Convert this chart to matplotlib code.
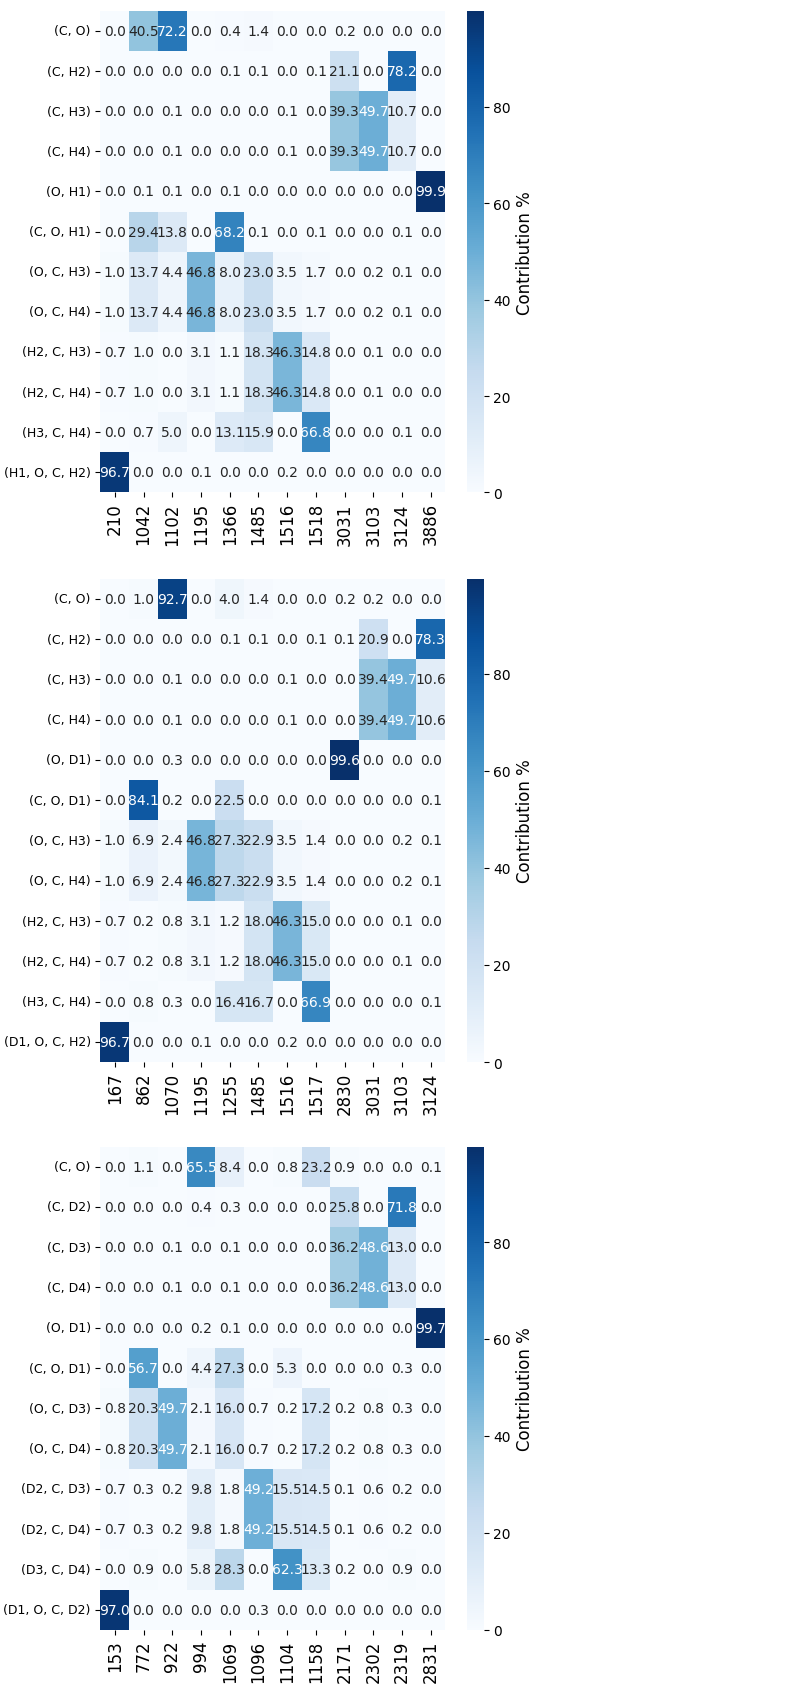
import numpy as np
import pandas as pd
import matplotlib
matplotlib.use('Agg')
import matplotlib.pyplot as plt
import seaborn as sns

# --- panel 1: CH3OH ---
freqs_h = ['210', '1042', '1102', '1195', '1366', '1485', '1516', '1518', '3031', '3103', '3124', '3886']
coords_h = ['(C, O)', '(C, H2)', '(C, H3)', '(C, H4)', '(O, H1)', '(C, O, H1)', '(O, C, H3)',
            '(O, C, H4)', '(H2, C, H3)', '(H2, C, H4)', '(H3, C, H4)', '(H1, O, C, H2)']
ped_h = [
    [0.0, 40.5, 72.2, 0.0, 0.4, 1.4, 0.0, 0.0, 0.2, 0.0, 0.0, 0.0],
    [0.0, 0.0, 0.0, 0.0, 0.1, 0.1, 0.0, 0.1, 21.1, 0.0, 78.2, 0.0],
    [0.0, 0.0, 0.1, 0.0, 0.0, 0.0, 0.1, 0.0, 39.3, 49.7, 10.7, 0.0],
    [0.0, 0.0, 0.1, 0.0, 0.0, 0.0, 0.1, 0.0, 39.3, 49.7, 10.7, 0.0],
    [0.0, 0.1, 0.1, 0.0, 0.1, 0.0, 0.0, 0.0, 0.0, 0.0, 0.0, 99.9],
    [0.0, 29.4, 13.8, 0.0, 68.2, 0.1, 0.0, 0.1, 0.0, 0.0, 0.1, 0.0],
    [1.0, 13.7, 4.4, 46.8, 8.0, 23.0, 3.5, 1.7, 0.0, 0.2, 0.1, 0.0],
    [1.0, 13.7, 4.4, 46.8, 8.0, 23.0, 3.5, 1.7, 0.0, 0.2, 0.1, 0.0],
    [0.7, 1.0, 0.0, 3.1, 1.1, 18.3, 46.3, 14.8, 0.0, 0.1, 0.0, 0.0],
    [0.7, 1.0, 0.0, 3.1, 1.1, 18.3, 46.3, 14.8, 0.0, 0.1, 0.0, 0.0],
    [0.0, 0.7, 5.0, 0.0, 13.1, 15.9, 0.0, 66.8, 0.0, 0.0, 0.1, 0.0],
    [96.7, 0.0, 0.0, 0.1, 0.0, 0.0, 0.2, 0.0, 0.0, 0.0, 0.0, 0.0],
]

# --- panel 2: CH3OD ---
freqs_d1 = ['167', '862', '1070', '1195', '1255', '1485', '1516', '1517', '2830', '3031', '3103', '3124']
coords_d1 = ['(C, O)', '(C, H2)', '(C, H3)', '(C, H4)', '(O, D1)', '(C, O, D1)', '(O, C, H3)',
             '(O, C, H4)', '(H2, C, H3)', '(H2, C, H4)', '(H3, C, H4)', '(D1, O, C, H2)']
ped_d1 = [
    [0.0, 1.0, 92.7, 0.0, 4.0, 1.4, 0.0, 0.0, 0.2, 0.2, 0.0, 0.0],
    [0.0, 0.0, 0.0, 0.0, 0.1, 0.1, 0.0, 0.1, 0.1, 20.9, 0.0, 78.3],
    [0.0, 0.0, 0.1, 0.0, 0.0, 0.0, 0.1, 0.0, 0.0, 39.4, 49.7, 10.6],
    [0.0, 0.0, 0.1, 0.0, 0.0, 0.0, 0.1, 0.0, 0.0, 39.4, 49.7, 10.6],
    [0.0, 0.0, 0.3, 0.0, 0.0, 0.0, 0.0, 0.0, 99.6, 0.0, 0.0, 0.0],
    [0.0, 84.1, 0.2, 0.0, 22.5, 0.0, 0.0, 0.0, 0.0, 0.0, 0.0, 0.1],
    [1.0, 6.9, 2.4, 46.8, 27.3, 22.9, 3.5, 1.4, 0.0, 0.0, 0.2, 0.1],
    [1.0, 6.9, 2.4, 46.8, 27.3, 22.9, 3.5, 1.4, 0.0, 0.0, 0.2, 0.1],
    [0.7, 0.2, 0.8, 3.1, 1.2, 18.0, 46.3, 15.0, 0.0, 0.0, 0.1, 0.0],
    [0.7, 0.2, 0.8, 3.1, 1.2, 18.0, 46.3, 15.0, 0.0, 0.0, 0.1, 0.0],
    [0.0, 0.8, 0.3, 0.0, 16.4, 16.7, 0.0, 66.9, 0.0, 0.0, 0.0, 0.1],
    [96.7, 0.0, 0.0, 0.1, 0.0, 0.0, 0.2, 0.0, 0.0, 0.0, 0.0, 0.0],
]

# --- panel 3: CD3OD ---
freqs_d4 = ['153', '772', '922', '994', '1069', '1096', '1104', '1158', '2171', '2302', '2319', '2831']
coords_d4 = ['(C, O)', '(C, D2)', '(C, D3)', '(C, D4)', '(O, D1)', '(C, O, D1)', '(O, C, D3)',
             '(O, C, D4)', '(D2, C, D3)', '(D2, C, D4)', '(D3, C, D4)', '(D1, O, C, D2)']
ped_d4 = [
    [0.0, 1.1, 0.0, 65.5, 8.4, 0.0, 0.8, 23.2, 0.9, 0.0, 0.0, 0.1],
    [0.0, 0.0, 0.0, 0.4, 0.3, 0.0, 0.0, 0.0, 25.8, 0.0, 71.8, 0.0],
    [0.0, 0.0, 0.1, 0.0, 0.1, 0.0, 0.0, 0.0, 36.2, 48.6, 13.0, 0.0],
    [0.0, 0.0, 0.1, 0.0, 0.1, 0.0, 0.0, 0.0, 36.2, 48.6, 13.0, 0.0],
    [0.0, 0.0, 0.0, 0.2, 0.1, 0.0, 0.0, 0.0, 0.0, 0.0, 0.0, 99.7],
    [0.0, 56.7, 0.0, 4.4, 27.3, 0.0, 5.3, 0.0, 0.0, 0.0, 0.3, 0.0],
    [0.8, 20.3, 49.7, 2.1, 16.0, 0.7, 0.2, 17.2, 0.2, 0.8, 0.3, 0.0],
    [0.8, 20.3, 49.7, 2.1, 16.0, 0.7, 0.2, 17.2, 0.2, 0.8, 0.3, 0.0],
    [0.7, 0.3, 0.2, 9.8, 1.8, 49.2, 15.5, 14.5, 0.1, 0.6, 0.2, 0.0],
    [0.7, 0.3, 0.2, 9.8, 1.8, 49.2, 15.5, 14.5, 0.1, 0.6, 0.2, 0.0],
    [0.0, 0.9, 0.0, 5.8, 28.3, 0.0, 62.3, 13.3, 0.2, 0.0, 0.9, 0.0],
    [97.0, 0.0, 0.0, 0.0, 0.0, 0.3, 0.0, 0.0, 0.0, 0.0, 0.0, 0.0],
]

panels = [(ped_h, coords_h, freqs_h), (ped_d1, coords_d1, freqs_d1), (ped_d4, coords_d4, freqs_d4)]
# (bottom, top) of each heatmap in figure fractions
rows_pos = [(0.708, 0.993), (0.371, 0.657), (0.035, 0.321)]

fig = plt.figure(figsize=(7.85, 16.9), dpi=100)
for (vals, coords, freqs), (b, t) in zip(panels, rows_pos):
    ax = fig.add_axes([0.128, b, 0.439, t - b])
    cax = fig.add_axes([0.595, b, 0.021, t - b])
    df = pd.DataFrame(vals, index=coords, columns=freqs)
    sns.heatmap(df, ax=ax, cbar_ax=cax, cmap='Blues', annot=True, fmt='.1f',
                annot_kws={'fontsize': 10})
    ax.set_yticklabels(coords, rotation=0, fontsize=9)
    ax.set_xticklabels(freqs, rotation=90, fontsize=12)
    cax.tick_params(labelsize=10)
    cax.set_ylabel('Contribution %', fontsize=12)

fig.savefig('out.png', dpi=100)
